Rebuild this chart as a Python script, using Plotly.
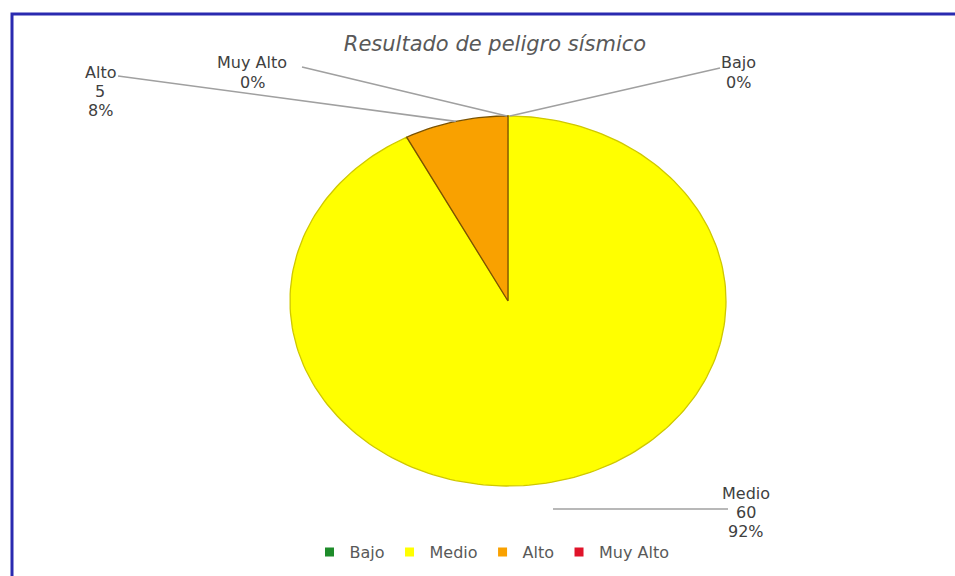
import math
import plotly.graph_objects as go

# ---- data ----
categories = ["Bajo", "Medio", "Alto", "Muy Alto"]
values = [0, 60, 5, 0]
colors = ["#1E8C2A", "#FFFF00", "#F9A100", "#E0142A"]
edge_colors = ["#0F5A18", "#CFC800", "#7A5200", "#8A0010"]
title_text = "Resultado de peligro sísmico"

# ---- geometry / style (pixel-like axes) ----
W, H = 955, 576
cx, cy = 508, 301          # pie centre
rx, ry = 218, 185          # ellipse radii (pie is horizontally stretched)
FONT = "DejaVu Sans, Liberation Sans, Arial, sans-serif"
label_font = dict(family=FONT, size=16, color="#404040")

total = sum(values)
fig = go.Figure()


def pt(theta_deg, scale=1.0):
    t = math.radians(theta_deg)
    return cx + scale * rx * math.sin(t), cy - scale * ry * math.cos(t)


start = 0.0
mids = []
for cat, v, col, ec in zip(categories, values, colors, edge_colors):
    sweep = 360.0 * v / total
    end = start + sweep
    mids.append(start + sweep / 2)
    if v > 0:
        n = max(4, int(sweep / 1.5))
        xs, ys = [cx], [cy]
        for i in range(n + 1):
            x, y = pt(start + sweep * i / n)
            xs.append(x)
            ys.append(y)
        xs.append(cx)
        ys.append(cy)
        fig.add_trace(go.Scatter(
            x=xs, y=ys, mode="lines", fill="toself", fillcolor=col,
            line=dict(color=ec, width=1.3), showlegend=False, hoverinfo="skip"))
    start = end

# legend entries
for cat, col in zip(categories, colors):
    fig.add_trace(go.Scatter(
        x=[None], y=[None], mode="markers", name=cat,
        marker=dict(symbol="square", size=9, color=col), showlegend=True))

pcts = [round(v / total * 100) for v in values]

# ---- data labels with leader lines (one annotation per text line) ----
top_x, top_y = pt(0)
alto_x, alto_y = pt(mids[2])
line_style = dict(color="#A0A0A0", width=1.6)

label_lines = [
    (738, [62, 82], [categories[0], f"{pcts[0]}%"]),
    (252, [62, 82], [categories[3], f"{pcts[3]}%"]),
    (100, [72, 91, 110], [categories[2], f"{values[2]}", f"{pcts[2]}%"]),
    (746, [493, 512, 531], [categories[1], f"{values[1]}", f"{pcts[1]}%"]),
]
for x, ys, texts in label_lines:
    for y, t in zip(ys, texts):
        fig.add_annotation(x=x, y=y, text=t, showarrow=False, font=label_font,
                           xanchor="center", yanchor="middle")

fig.add_shape(type="line", x0=720, y0=68, x1=top_x + 2, y1=top_y, line=line_style)
fig.add_shape(type="line", x0=302, y0=67, x1=top_x - 1, y1=top_y, line=line_style)
fig.add_shape(type="line", x0=118, y0=76, x1=alto_x, y1=alto_y, line=line_style)
fig.add_shape(type="line", x0=553, y0=509, x1=728, y1=509, line=line_style)

# border
fig.add_shape(type="rect", x0=12, y0=14, x1=965, y1=590,
              line=dict(color="#2A2AB0", width=3), layer="above")

fig.update_layout(
    width=W, height=H,
    margin=dict(l=0, r=0, t=0, b=0),
    paper_bgcolor="white", plot_bgcolor="white",
    title=dict(text=title_text, x=495 / W, xanchor="center", y=1 - 44 / H, yanchor="middle",
               font=dict(family=FONT, size=21, color="#595959", style="italic")),
    xaxis=dict(range=[0, W], visible=False, fixedrange=True),
    yaxis=dict(range=[H, 0], visible=False, fixedrange=True),
    showlegend=True,
    legend=dict(orientation="h", x=492 / W, xanchor="center", y=1 - 552 / H, yanchor="middle",
                font=dict(family=FONT, size=16, color="#595959"),
                itemwidth=30, bgcolor="rgba(0,0,0,0)"),
    hovermode=False,
)

fig.write_html("out.html", config={"displayModeBar": False},
               post_script="document.body.style.margin='0';")
